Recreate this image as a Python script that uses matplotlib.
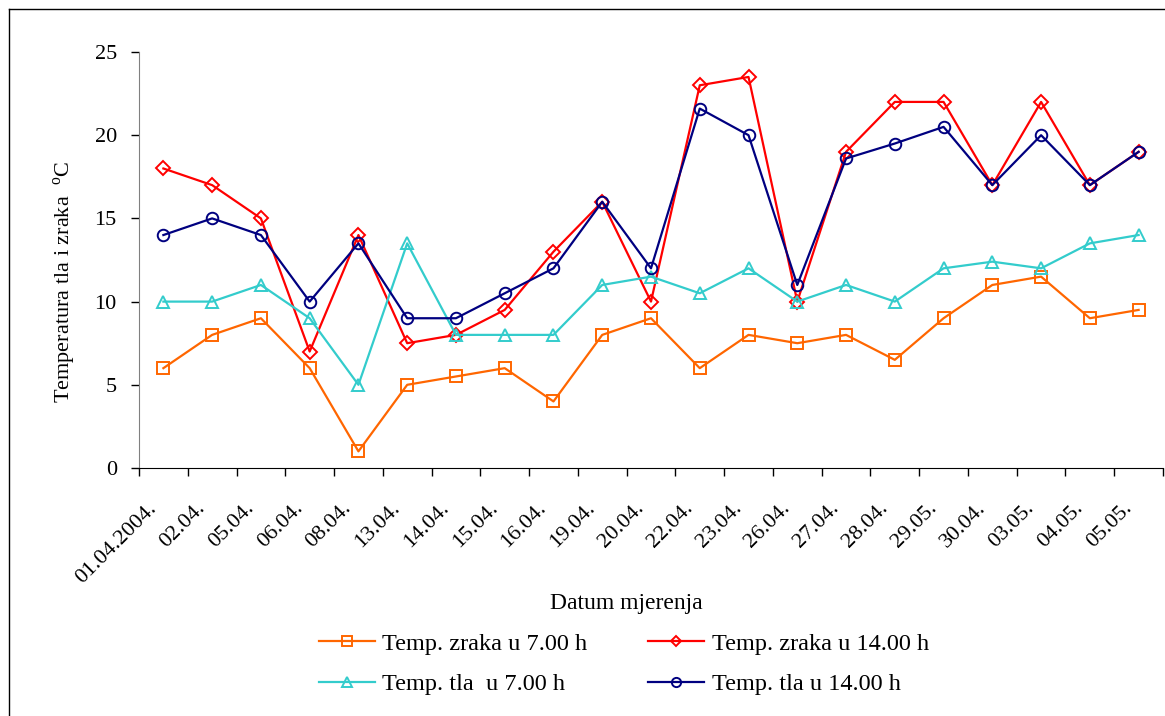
import matplotlib
matplotlib.use("Agg")
import matplotlib.pyplot as plt
from matplotlib.lines import Line2D

plt.rcParams['font.family'] = ['Liberation Serif', 'DejaVu Serif']
plt.rcParams['mathtext.fontset'] = 'custom'
plt.rcParams['mathtext.rm'] = 'Liberation Serif'

# --- data ---
dates = ['01.04.2004.', '02.04.', '05.04.', '06.04.', '08.04.', '13.04.', '14.04.',
         '15.04.', '16.04.', '19.04.', '20.04.', '22.04.', '23.04.', '26.04.',
         '27.04.', '28.04.', '29.05.', '30.04.', '03.05.', '04.05.', '05.05.']
zrak_7 = [6, 8, 9, 6, 1, 5, 5.5, 6, 4, 8, 9, 6, 8, 7.5, 8, 6.5, 9, 11, 11.5, 9, 9.5]
zrak_14 = [18, 17, 15, 7, 14, 7.5, 8, 9.5, 13, 16, 10, 23, 23.5, 10, 19, 22, 22, 17, 22, 17, 19]
tlo_7 = [10, 10, 11, 9, 5, 13.5, 8, 8, 8, 11, 11.5, 10.5, 12, 10, 11, 10, 12, 12.4, 12, 13.5, 14]
tlo_14 = [14, 15, 14, 10, 13.5, 9, 9, 10.5, 12, 16, 12, 21.6, 20, 11, 18.6, 19.5, 20.5, 17, 20, 17, 19]

W, H = 1165, 716
fig = plt.figure(figsize=(W / 100, H / 100), dpi=100)
ax = fig.add_axes([139 / W, 1 - 468 / H, (1163 - 139) / W, (468 - 52) / H])

x = list(range(len(dates)))
series = [
    (zrak_7, '#FF6600', 's', 'Temp. zraka u 7.00 h'),
    (zrak_14, '#FF0000', 'D', 'Temp. zraka u 14.00 h'),
    (tlo_7, '#33CCCC', '^', 'Temp. tla  u 7.00 h'),
    (tlo_14, '#000080', 'o', 'Temp. tla u 14.00 h'),
]
handles = []
for vals, col, mk, lab in series:
    ms = 6.8 if mk == 'D' else 8.3
    ax.plot(x, vals, color=col, lw=1.6, marker=mk, ms=ms,
            mfc='none', mec=col, mew=1.4, label=lab)
    handles.append(Line2D([], [], color=col, lw=1.6, marker=mk, ms=ms * 0.8,
                          mfc='none', mec=col, mew=1.4, label=lab))

ax.set_xlim(-0.5, len(dates) - 0.5)
ax.set_ylim(0, 25)
ax.set_yticks([0, 5, 10, 15, 20, 25])
ax.tick_params(axis='y', labelsize=16, direction='out', length=6, width=1, pad=10)

# ticks between categories, labels at category centres
ax.set_xticks([i - 0.5 for i in range(len(dates) + 1)])
ax.set_xticklabels([])
ax.tick_params(axis='x', direction='out', length=6, width=1)
for i, d in enumerate(dates):
    ax.annotate(d, xy=(i, 0), xycoords=('data', 'axes fraction'),
                xytext=(-7, -27), textcoords='offset points',
                rotation=45, rotation_mode='anchor', ha='right', va='center',
                fontsize=16)

for s in ['top', 'right']:
    ax.spines[s].set_visible(False)
ax.spines['left'].set_color('#808080')
ax.spines['bottom'].set_color('black')

fig.text(65 / W, 1 - 282 / H, r'Temperatura tla i zraka  $^{\mathrm{o}}$C',
         rotation=90, ha='center', va='center', fontsize=16)
fig.text(626 / W, 1 - 604 / H, 'Datum mjerenja', ha='center', va='center', fontsize=17)

# row-wise legend order: air 7h, air 14h / soil 7h, soil 14h
leg_order = [handles[0], handles[2], handles[1], handles[3]]
fig.legend(handles=leg_order, loc='center', bbox_to_anchor=(624 / W, 1 - 664 / H),
           ncol=2, frameon=False, fontsize=17.5, handlelength=2.3,
           handletextpad=0.3, columnspacing=2.5, labelspacing=0.75)

# figure frame (top and left edges visible in the reference)
fig.add_artist(Line2D([9 / W, 9 / W], [0, 1 - 9 / H], transform=fig.transFigure,
                      color='black', lw=1))
fig.add_artist(Line2D([9 / W, 1], [1 - 9 / H, 1 - 9 / H], transform=fig.transFigure,
                      color='black', lw=1))

fig.savefig('out.png', dpi=100)
